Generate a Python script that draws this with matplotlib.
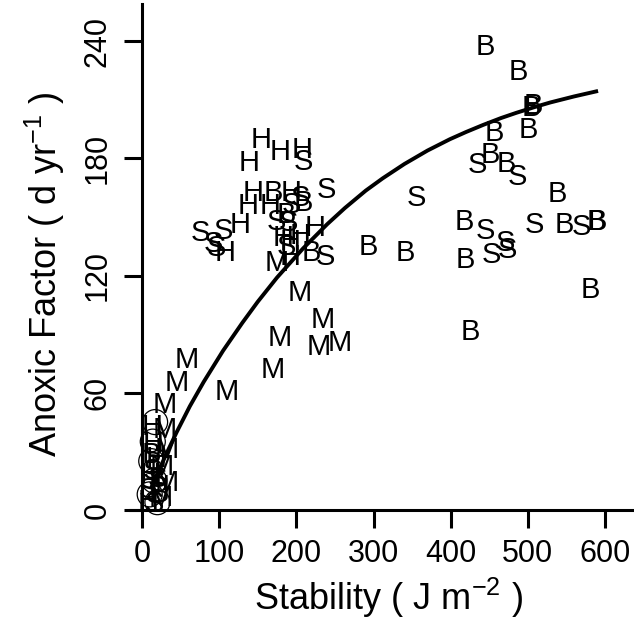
import matplotlib
matplotlib.use("Agg")
import matplotlib.pyplot as plt

plt.rcParams["font.family"] = ["Liberation Sans", "DejaVu Sans"]
plt.rcParams["mathtext.fontset"] = "custom"
plt.rcParams["mathtext.rm"] = "Liberation Sans"
plt.rcParams["mathtext.default"] = "regular"

# letter-coded points: (stability, anoxic factor)
b_x = [445, 488, 505, 507, 456, 500.6, 451, 472.6, 538.7, 417.7, 547, 589, 590,
       418.6, 341, 293, 581.4, 425, 170, 209, 187.5, 220, 12, 22]
b_y = [237, 224, 206, 207, 193, 194.5, 181.7, 177, 162, 147.5, 146, 147.5, 147.5,
       128, 131.4, 134.7, 112.6, 91, 162.5, 157, 151, 131.4, 28, 8]

s_x = [434.5, 486, 356, 444.5, 509, 570, 470.4, 473, 453, 209, 239, 205, 194,
       174.5, 190, 105, 76, 92.4, 96.8, 186.6, 237, 14, 20, 8, 16]
s_y = [176.6, 170.6, 159.5, 143, 146, 145, 136.5, 133, 130.5, 178.3, 163.8, 159.5,
       156, 147.5, 147, 142.8, 142, 136, 134, 134.7, 129.6, 20, 16, 10, 3]

h_x = [153.8, 178.8, 208, 139, 144, 193, 137.5, 166, 127, 107.6, 224, 183,
       191.8, 204.7, 191.8, 12.6, 15, 18, 10, 22, 8]
h_y = [189.4, 183.4, 184.2, 177.4, 162.5, 162.5, 155.5, 155.5, 145.8, 131.7,
       144.2, 139, 137.3, 140, 129.6, 42.6, 34, 26, 18, 12, 4]

m_x = [174, 204.7, 234, 178.8, 228.5, 256.6, 170, 58, 109.8, 45, 29.8,
       29.8, 32, 26, 32, 24]
m_y = [126.5, 110.9, 97.2, 87.9, 83.6, 85.3, 71.6, 76.8, 60.5, 64.8, 53.7,
       41, 30.7, 22, 13.7, 6]

o_x = [17, 14, 12, 16, 10, 20]
o_y = [45, 35, 25, 15, 8, 4]

# fitted curve
fit_x = [12, 20, 32, 45, 62, 80, 105, 130, 150, 175, 209, 240, 263, 290,
         312, 340, 370, 399, 420, 442, 465, 485, 510, 529, 560, 591]
fit_y = [11.4, 18.6, 29.1, 39.9, 53.1, 65.6, 81.5, 95.8, 106.6, 119.0, 134.0,
         146.3, 154.6, 163.5, 169.8, 177.1, 184.0, 189.8, 193.5, 197.1, 200.6,
         203.3, 206.4, 208.6, 211.7, 214.5]

fig = plt.figure(figsize=(6.34, 6.19), dpi=100)
ax = fig.add_axes([0.2057, 0.1761, 0.7924, 0.8174])
ax.set_xlim(-15, 636)
ax.set_ylim(0, 259)

for xs, ys, letter in [(b_x, b_y, "B"), (s_x, s_y, "S"),
                       (h_x, h_y, "H"), (m_x, m_y, "M")]:
    for x, y in zip(xs, ys):
        ax.text(x, y, letter, fontsize=21, ha="center", va="center",
                clip_on=False)

ax.scatter(o_x, o_y, s=18 ** 2, facecolors="none", edgecolors="black",
           linewidths=0.9, clip_on=False)

ax.plot(fit_x, fit_y, color="black", linewidth=2.8, solid_capstyle="butt")

for side in ["top", "right"]:
    ax.spines[side].set_visible(False)
ax.spines["left"].set_position(("data", 0))
ax.spines["bottom"].set_position(("data", 0))
ax.spines["left"].set_linewidth(2.2)
ax.spines["bottom"].set_linewidth(2.2)

ax.set_xticks([0, 100, 200, 300, 400, 500, 600])
ax.set_yticks([0, 60, 120, 180, 240])
ax.tick_params(direction="out", length=13, width=2.2, labelsize=22, pad=8)
for lab in ax.get_yticklabels():
    lab.set_rotation(90)
    lab.set_va("center")

fig.text(0.613, 0.034, "Stability ( J m$^{-2}$ )", fontsize=26,
         ha="center", va="center")
fig.text(0.071, 0.556, "Anoxic Factor ( d yr$^{-1}$ )", fontsize=26,
         ha="center", va="center", rotation=90)

fig.savefig("out.png", dpi=100)
